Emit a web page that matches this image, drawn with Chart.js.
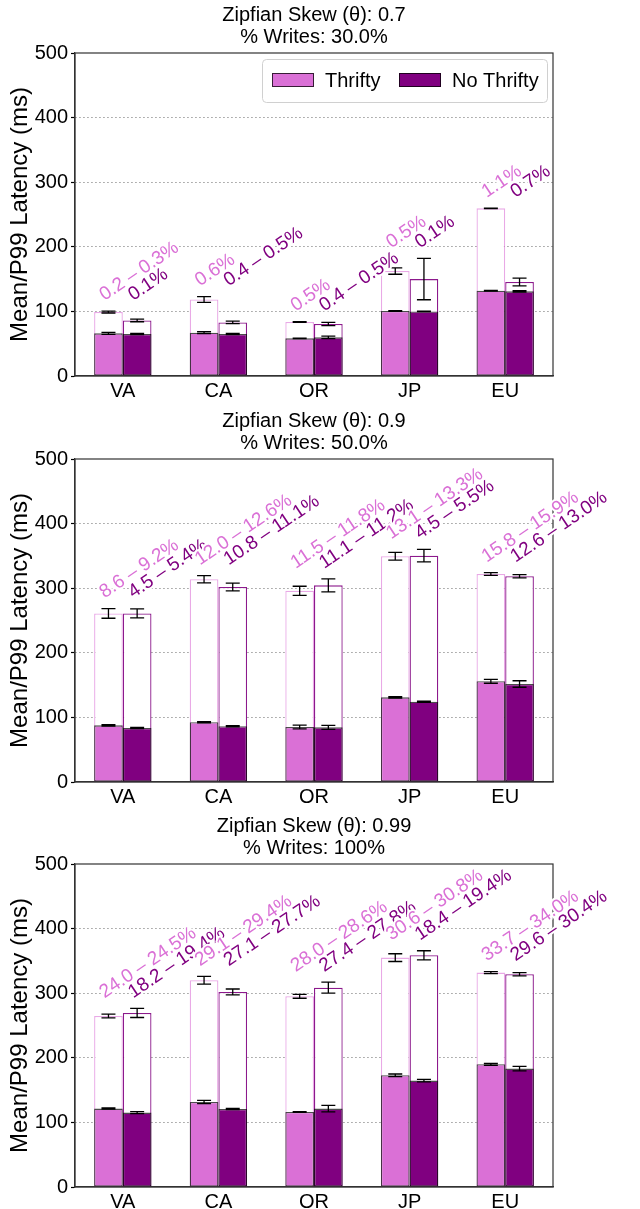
<!DOCTYPE html>
<html>
<head>
<meta charset="utf-8">
<script src="https://cdn.jsdelivr.net/npm/chart.js@4.4.1/dist/chart.umd.min.js"></script>
<style>
  html, body { margin: 0; padding: 0; background: #fff; }
  #wrap { position: relative; width: 640px; height: 1209px; overflow: hidden; }
  .panel { position: absolute; left: 0; width: 640px; height: 398px; }
</style>
</head>
<body>
<div id="wrap">
  <div class="panel" style="top:0"><canvas id="c1"></canvas></div>
  <div class="panel" style="top:406px"><canvas id="c2"></canvas></div>
  <div class="panel" style="top:811px"><canvas id="c3"></canvas></div>
</div>
<script>
const regions = ['VA', 'CA', 'OR', 'JP', 'EU'];
const yTicks = [0, 100, 200, 300, 400, 500];

// skew 0.7, 30% writes
const p1Title = ['Zipfian Skew (θ): 0.7', '% Writes: 30.0%'];
const p1ThriftyMean = [66, 67, 58.3, 100.6, 132];
const p1ThriftyMeanErr = [1.5, 1.5, 0.3, 0.5, 0.5];
const p1ThriftyP99 = [99, 118.5, 83.6, 162.5, 259.5];
const p1ThriftyP99Err = [1.5, 4.4, 0.5, 5, 0.5];
const p1NoThriftyMean = [65, 65, 59.8, 100, 131];
const p1NoThriftyMeanErr = [1, 1, 2, 0.5, 1];
const p1NoThriftyP99 = [86, 83, 80.5, 150, 145.5];
const p1NoThriftyP99Err = [2, 2, 2.5, 32, 6];
const p1ThriftyLabels = ['0.2 – 0.3%', '0.6%', '0.5%', '0.5%', '1.1%'];
const p1NoThriftyLabels = ['0.1%', '0.4 – 0.5%', '0.4 – 0.5%', '0.1%', '0.7%'];

// skew 0.9, 50% writes
const p2Title = ['Zipfian Skew (θ): 0.9', '% Writes: 50.0%'];
const p2ThriftyMean = [87.7, 92.4, 85.1, 131, 155.9];
const p2ThriftyMeanErr = [1, 1, 3, 1, 3];
const p2ThriftyP99 = [261, 313.8, 296, 349.4, 322];
const p2ThriftyP99Err = [7.5, 5.7, 7, 6, 2];
const p2NoThriftyMean = [83.6, 86.2, 84.6, 124.3, 151.7];
const p2NoThriftyMeanErr = [1, 1, 3, 1, 5];
const p2NoThriftyP99 = [261, 301.9, 304.4, 350.3, 318.4];
const p2NoThriftyP99Err = [7, 6, 10, 9.7, 2.5];
const p2ThriftyLabels = ['8.6 – 9.2%', '12.0 – 12.6%', '11.5 – 11.8%', '13.1 – 13.3%', '15.8 – 15.9%'];
const p2NoThriftyLabels = ['4.5 – 5.4%', '10.8 – 11.1%', '11.1 – 11.2%', '4.5 – 5.5%', '12.6 – 13.0%'];

// skew 0.99, 100% writes
const p3Title = ['Zipfian Skew (θ): 0.99', '% Writes: 100%'];
const p3ThriftyMean = [121.4, 131.6, 116.1, 172.9, 190];
const p3ThriftyMeanErr = [1, 2.5, 0.5, 2, 1.5];
const p3ThriftyP99 = [264.7, 320, 295.2, 355.1, 331.9];
const p3ThriftyP99Err = [3, 6, 3, 6, 1.5];
const p3NoThriftyMean = [115.2, 120.8, 121.4, 164.7, 183.3];
const p3NoThriftyMeanErr = [1.5, 1, 5, 2, 3.5];
const p3NoThriftyP99 = [269.4, 301.9, 308.6, 358.7, 329.3];
const p3NoThriftyP99Err = [7, 4.6, 8.5, 7, 2.5];
const p3ThriftyLabels = ['24.0 – 24.5%', '29.1 – 29.4%', '28.0 – 28.6%', '30.6 – 30.8%', '33.7 – 34.0%'];
const p3NoThriftyLabels = ['18.2 – 19.4%', '27.1 – 27.7%', '27.4 – 27.8%', '18.4 – 19.4%', '29.6 – 30.4%'];

const FONT = '"Liberation Sans", Arial, Helvetica, sans-serif';
const ORCHID = '#DA70D6';
const PURPLE = '#800080';
Chart.defaults.font.family = FONT;
Chart.defaults.color = '#000';

// error bars on top of every bar
const errorBars = {
    id: 'errorBars',
    afterDatasetsDraw(chart) {
        const ctx = chart.ctx;
        const y = chart.scales.y;
        ctx.save();
        ctx.strokeStyle = '#000';
        ctx.lineWidth = 1.3;
        chart.data.datasets.forEach((ds, di) => {
            if (!ds.err) return;
            chart.getDatasetMeta(di).data.forEach((bar, i) => {
                const hi = y.getPixelForValue(ds.data[i] + ds.err[i]);
                const lo = y.getPixelForValue(ds.data[i] - ds.err[i]);
                const cap = 7;
                ctx.beginPath();
                ctx.moveTo(bar.x, hi); ctx.lineTo(bar.x, lo);
                ctx.moveTo(bar.x - cap, hi); ctx.lineTo(bar.x + cap, hi);
                ctx.moveTo(bar.x - cap, lo); ctx.lineTo(bar.x + cap, lo);
                ctx.stroke();
            });
        });
        ctx.restore();
    }
};

function drawRotated(ctx, text, x, y, color) {
    ctx.save();
    ctx.translate(x, y);
    ctx.rotate(-34 * Math.PI / 180);
    ctx.font = '19px ' + FONT;
    ctx.textAlign = 'left';
    ctx.textBaseline = 'alphabetic';
    ctx.lineJoin = 'round';
    ctx.strokeStyle = '#fff';
    ctx.lineWidth = 4;
    ctx.strokeText(text, 0, 0);
    ctx.fillStyle = color;
    ctx.fillText(text, 0, 0);
    ctx.restore();
}

function makePanel(id, cfg) {
    const overlay = {
        id: 'overlay',
        afterDraw(chart) {
            const ctx = chart.ctx;
            const a = chart.chartArea;
            const y = chart.scales.y;

            // axes frame
            ctx.save();
            ctx.strokeStyle = '#333';
            ctx.lineWidth = 1.2;
            ctx.strokeRect(a.left, a.top, a.right - a.left, a.bottom - a.top);
            ctx.restore();

            // percentage labels above each group
            const tDs = chart.data.datasets[2], nDs = chart.data.datasets[3];
            const tMeta = chart.getDatasetMeta(2), nMeta = chart.getDatasetMeta(3);
            regions.forEach((r, i) => {
                const top = Math.max(tDs.data[i] + tDs.err[i], nDs.data[i] + nDs.err[i]);
                const py = y.getPixelForValue(top) - 10;
                drawRotated(ctx, cfg.tLabels[i], tMeta.data[i].x - 4, py, ORCHID);
                drawRotated(ctx, cfg.nLabels[i], nMeta.data[i].x - 4, py, PURPLE);
            });

            // legend inside the top right corner
            if (cfg.legend) {
                const bx = a.right - 291, by = a.top + 6, bw = 285, bh = 43;
                ctx.save();
                ctx.fillStyle = 'rgba(255,255,255,0.85)';
                ctx.strokeStyle = '#d0d0d0';
                ctx.lineWidth = 1;
                ctx.beginPath();
                ctx.roundRect(bx + 0.5, by + 0.5, bw, bh, 4);
                ctx.fill();
                ctx.stroke();
                ctx.font = '20px ' + FONT;
                ctx.textBaseline = 'middle';
                const entries = [['Thrifty', ORCHID, bx + 10], ['No Thrifty', PURPLE, bx + 137]];
                entries.forEach(([name, col, ex]) => {
                    ctx.fillStyle = col;
                    ctx.fillRect(ex, by + 14, 42, 14);
                    ctx.strokeStyle = 'rgba(0,0,0,0.75)';
                    ctx.strokeRect(ex + 0.5, by + 14.5, 41, 13);
                    ctx.fillStyle = '#000';
                    ctx.fillText(name, ex + 53, by + 22);
                });
                ctx.restore();
            }
        }
    };

    const meanStyle = { borderColor: 'rgba(0,0,0,0.7)', borderWidth: 1.3, borderSkipped: false, order: 0 };
    const p99Style = { backgroundColor: '#fff', borderWidth: 1.3, borderSkipped: false, order: 1 };

    new Chart(document.getElementById(id), {
        type: 'bar',
        data: {
            labels: regions,
            datasets: [
                { label: 'Thrifty', data: cfg.tMean, err: cfg.tMeanErr, backgroundColor: ORCHID, stack: 't', ...meanStyle },
                { label: 'No Thrifty', data: cfg.nMean, err: cfg.nMeanErr, backgroundColor: PURPLE, stack: 'n', ...meanStyle },
                { label: 'Thrifty P99', data: cfg.tP99, err: cfg.tP99Err, borderColor: 'rgba(218,112,214,0.6)', stack: 't', ...p99Style },
                { label: 'No Thrifty P99', data: cfg.nP99, err: cfg.nP99Err, borderColor: 'rgba(128,0,128,0.9)', stack: 'n', ...p99Style }
            ]
        },
        options: {
            responsive: true,
            maintainAspectRatio: false,
            animation: false,
            devicePixelRatio: 1,
            categoryPercentage: 0.6,
            barPercentage: 1.0,
            layout: { padding: { left: 0, right: 87, top: 0, bottom: 0 } },
            plugins: {
                legend: { display: false },
                tooltip: { enabled: false },
                title: {
                    display: true,
                    text: cfg.title,
                    color: '#000',
                    fullSize: false,
                    font: { size: 20, weight: 'normal', lineHeight: 1.1 },
                    padding: { top: 4, bottom: 5 }
                }
            },
            scales: {
                x: {
                    stacked: true,
                    grid: { display: false, drawTicks: false },
                    border: { display: true, color: '#333', width: 1.2 },
                    ticks: { font: { size: 20 }, color: '#000', padding: 3 },
                    afterFit: s => { s.height = 22; }
                },
                y: {
                    stacked: false,
                    min: 0,
                    max: 500,
                    afterBuildTicks: s => { s.ticks = yTicks.map(v => ({ value: v })); },
                    grid: {
                        color: c => (c.tick && (c.tick.value === 0 || c.tick.value === 500)) ? 'rgba(0,0,0,0)' : '#9a9a9a',
                        lineWidth: 1,
                        tickColor: '#000',
                        tickLength: 4,
                        tickWidth: 1.2
                    },
                    border: { display: true, color: '#333', width: 1.2, dash: [1.5, 2.5] },
                    ticks: { font: { size: 20 }, color: '#000', padding: 3 },
                    title: {
                        display: true,
                        text: 'Mean/P99 Latency (ms)',
                        color: '#000',
                        font: { size: 24, lineHeight: 1.2 },
                        padding: { top: 6, bottom: 0 }
                    },
                    afterFit: s => { s.width = 75; }
                }
            }
        },
        plugins: [errorBars, overlay]
    });
}

makePanel('c1', {
    title: p1Title, legend: true,
    tMean: p1ThriftyMean, tMeanErr: p1ThriftyMeanErr, tP99: p1ThriftyP99, tP99Err: p1ThriftyP99Err,
    nMean: p1NoThriftyMean, nMeanErr: p1NoThriftyMeanErr, nP99: p1NoThriftyP99, nP99Err: p1NoThriftyP99Err,
    tLabels: p1ThriftyLabels, nLabels: p1NoThriftyLabels
});
makePanel('c2', {
    title: p2Title, legend: false,
    tMean: p2ThriftyMean, tMeanErr: p2ThriftyMeanErr, tP99: p2ThriftyP99, tP99Err: p2ThriftyP99Err,
    nMean: p2NoThriftyMean, nMeanErr: p2NoThriftyMeanErr, nP99: p2NoThriftyP99, nP99Err: p2NoThriftyP99Err,
    tLabels: p2ThriftyLabels, nLabels: p2NoThriftyLabels
});
makePanel('c3', {
    title: p3Title, legend: false,
    tMean: p3ThriftyMean, tMeanErr: p3ThriftyMeanErr, tP99: p3ThriftyP99, tP99Err: p3ThriftyP99Err,
    nMean: p3NoThriftyMean, nMeanErr: p3NoThriftyMeanErr, nP99: p3NoThriftyP99, nP99Err: p3NoThriftyP99Err,
    tLabels: p3ThriftyLabels, nLabels: p3NoThriftyLabels
});
</script>
</body>
</html>
